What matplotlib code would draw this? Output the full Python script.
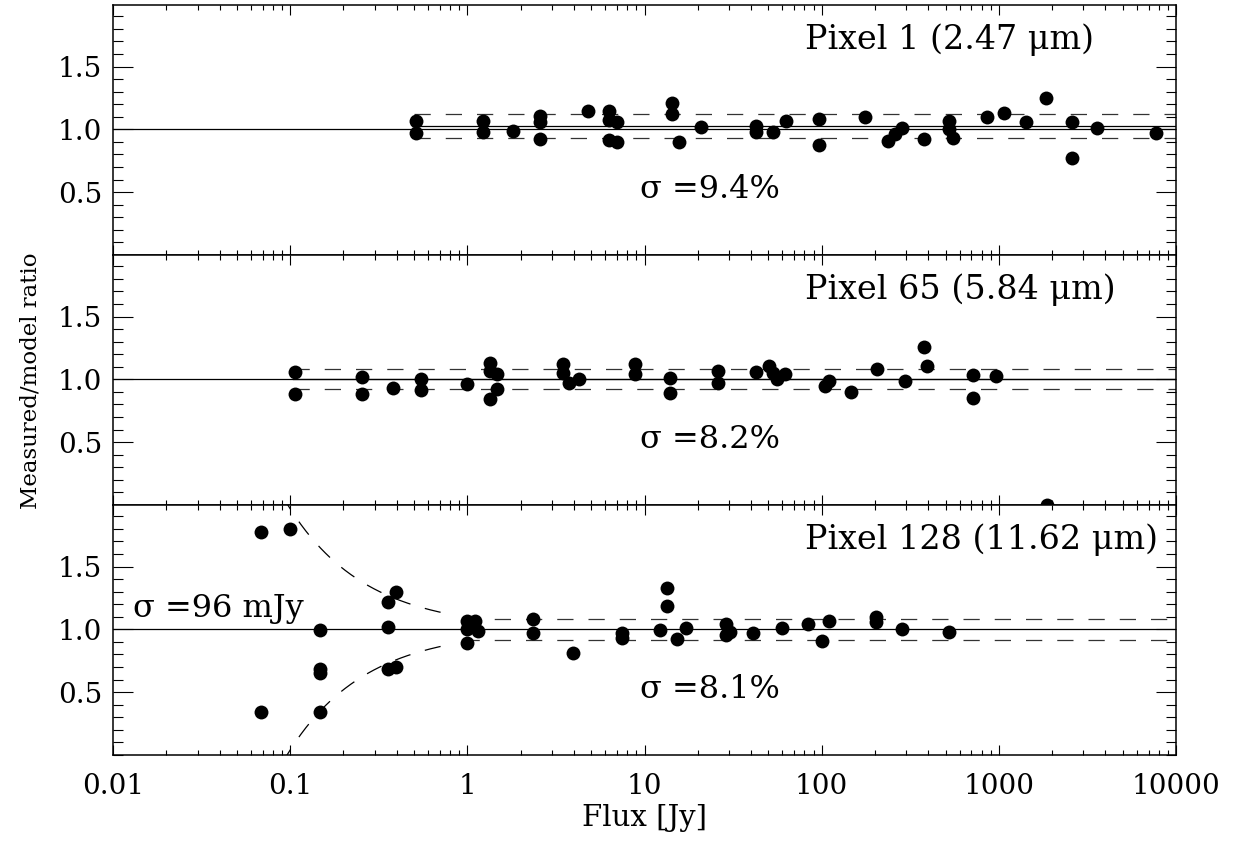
import numpy as np
import matplotlib
matplotlib.use("Agg")
import matplotlib.pyplot as plt
from matplotlib.ticker import FixedLocator, MultipleLocator, LogLocator, NullFormatter

plt.rcParams['font.family'] = ['DejaVu Serif']
plt.rcParams['mathtext.fontset'] = 'dejavuserif'

# Pixel 1 (2.47 um)
flux_p1 = [0.513, 0.513, 1.22, 1.22, 1.81, 2.57, 2.57, 2.57, 4.8,
           6.3, 6.3, 6.98, 6.3, 6.98, 14.3, 14.3, 15.6, 20.8, 42.6, 42.6,
           53, 62.8, 96.4, 96.4, 175, 237, 259, 284, 377, 522, 522, 550,
           855, 1067, 1420, 1841, 2580, 2580, 3570, 7690]
ratio_p1 = [1.07, 0.97, 1.066, 0.976, 0.99, 1.106, 1.055, 0.92, 1.145,
            1.145, 1.074, 1.058, 0.913, 0.90, 1.21, 1.12, 0.90, 1.02, 1.03, 0.98,
            0.98, 1.066, 1.08, 0.873, 1.10, 0.907, 0.96, 1.013, 0.92, 1.066, 1.005, 0.934,
            1.098, 1.127, 1.058, 1.25, 1.058, 0.775, 1.013, 0.974]

# Pixel 65 (5.84 um)
flux_p65 = [0.106, 0.106, 0.254, 0.254, 0.380, 0.547, 0.547, 0.995,
            1.34, 1.34, 1.47, 1.47, 1.34, 3.47, 3.47, 3.74, 4.26, 8.83, 8.83,
            13.9, 13.9, 25.9, 25.9, 42.6, 50.4, 53, 55.9, 62, 104, 110, 146,
            205, 295, 377, 393, 713, 713, 961, 1866]
ratio_p65 = [1.061, 0.881, 1.018, 0.881, 0.929, 1.0, 0.915, 0.96,
             1.127, 1.066, 1.045, 0.926, 0.841, 1.119, 1.053, 0.968, 1.0, 1.119, 1.04,
             1.013, 0.894, 1.066, 0.968, 1.058, 1.106, 1.053, 1.0, 1.045, 0.947, 0.987, 0.902,
             1.085, 0.987, 1.26, 1.11, 1.034, 0.855, 1.026, 0.0]

# Pixel 128 (11.62 um)
flux_p128 = [0.0684, 0.0684, 0.0998, 0.147, 0.147, 0.147, 0.147,
             0.356, 0.356, 0.356, 0.395, 0.395, 1.0, 1.0, 1.0, 1.10, 1.15,
             2.34, 2.34, 3.95, 7.45, 7.45, 12.2, 13.4, 13.4, 15.2, 17.1,
             28.8, 28.8, 30.3, 40.9, 59.6, 83.5, 100, 110, 202, 202, 284, 522]
ratio_p128 = [1.775, 0.339, 1.80, 0.992, 0.683, 0.651, 0.344,
              1.22, 1.02, 0.683, 1.30, 0.70, 1.066, 1.0, 0.894, 1.066, 0.987,
              1.079, 0.974, 0.81, 0.974, 0.934, 0.992, 1.33, 1.19, 0.921, 1.013,
              1.04, 0.952, 0.976, 0.968, 1.013, 1.04, 0.907, 1.066, 1.10, 1.058, 1.0, 0.979]

panel_titles = ["Pixel 1 (2.47 μm)", "Pixel 65 (5.84 μm)", "Pixel 128 (11.62 μm)"]
sigma_labels = ["σ =9.4%", "σ =8.2%", "σ =8.1%"]
mean_ratio = [1.024, 1.004, 1.0]
sigma_frac = [0.094, 0.082, 0.081]
line_start = [0.5, 0.104, 0.95]
sigma_abs = 0.096   # Jy, absolute noise floor for pixel 128

fluxes = [flux_p1, flux_p65, flux_p128]
ratios = [ratio_p1, ratio_p65, ratio_p128]

fig = plt.figure(figsize=(12.37, 8.41), dpi=100)
left, width = 113 / 1237, 1063 / 1237
height = 250 / 841
bottoms = [(841 - 255) / 841, (841 - 505) / 841, (841 - 755) / 841]

xmin, xmax = 0.01, 10000
dash = (0, (13, 12))

axes = []
for i in range(3):
    ax = fig.add_axes([left, bottoms[i], width, height])
    axes.append(ax)
    ax.set_xscale('log')
    ax.set_xlim(xmin, xmax)
    ax.set_ylim(0.0, 1.99)

    # reference line at ratio 1
    ax.plot([xmin, xmax], [1, 1], color='black', lw=0.9)
    m, s, x0 = mean_ratio[i], sigma_frac[i], line_start[i]
    if abs(m - 1.0) > 0.002:
        ax.plot([x0, xmax], [m, m], color='black', lw=0.9)
    ax.plot([x0, xmax], [m * (1 + s)] * 2, color='#333333', lw=0.9, linestyle=dash)
    ax.plot([x0, xmax], [m * (1 - s)] * 2, color='#333333', lw=0.9, linestyle=dash)

    ax.plot(fluxes[i], ratios[i], 'o', color='black', markersize=10,
            markeredgewidth=0, clip_on=True)

    ax.text(0.651, 0.86, panel_titles[i], transform=ax.transAxes,
            ha='left', va='center', fontsize=24)
    ax.text(0.496, 0.26, sigma_labels[i], transform=ax.transAxes,
            ha='left', va='center', fontsize=23)

    ax.yaxis.set_major_locator(FixedLocator([0.5, 1.0, 1.5]))
    ax.yaxis.set_minor_locator(MultipleLocator(0.1))
    ax.xaxis.set_major_locator(LogLocator(base=10, numticks=20))
    ax.xaxis.set_minor_locator(LogLocator(base=10, subs=np.arange(2, 10), numticks=20))
    ax.xaxis.set_minor_formatter(NullFormatter())
    ax.tick_params(axis='y', which='major', direction='in', length=14.5, width=0.8,
                   left=True, right=True, labelsize=20, pad=8)
    ax.tick_params(axis='y', which='minor', direction='in', length=7.5, width=0.8,
                   left=True, right=True)
    ax.tick_params(axis='x', which='major', direction='in', length=7, width=0.8,
                   top=True, bottom=True, labelsize=20, pad=13)
    ax.tick_params(axis='x', which='minor', direction='in', length=3.5, width=0.8,
                   top=True, bottom=True)
    for sp in ax.spines.values():
        sp.set_linewidth(1.1)
    ax.set_yticklabels(['0.5', '1.0', '1.5'])
    if i < 2:
        ax.set_xticklabels([])

# flux-dependent envelope for pixel 128
ax = axes[2]
f = np.geomspace(0.09, 0.75, 200)
ax.plot(f, 1 + sigma_abs / f, color='black', lw=0.9, linestyle=dash)
ax.plot(f, 1 - sigma_abs / f, color='black', lw=0.9, linestyle=dash)
ax.text(0.019, 0.588, "σ =96 mJy", transform=ax.transAxes,
        ha='left', va='center', fontsize=23)

ax.set_xticks([0.01, 0.1, 1, 10, 100, 1000, 10000])
ax.set_xticklabels(['0.01', '0.1', '1', '10', '100', '1000', '10000'])
ax.set_xlabel('Flux [Jy]', fontsize=21, labelpad=3)

fig.text(0.025, (841 - 381) / 841, 'Measured/model ratio', rotation=90,
         ha='center', va='center', fontsize=16.5)

fig.savefig('out.png', dpi=100)
